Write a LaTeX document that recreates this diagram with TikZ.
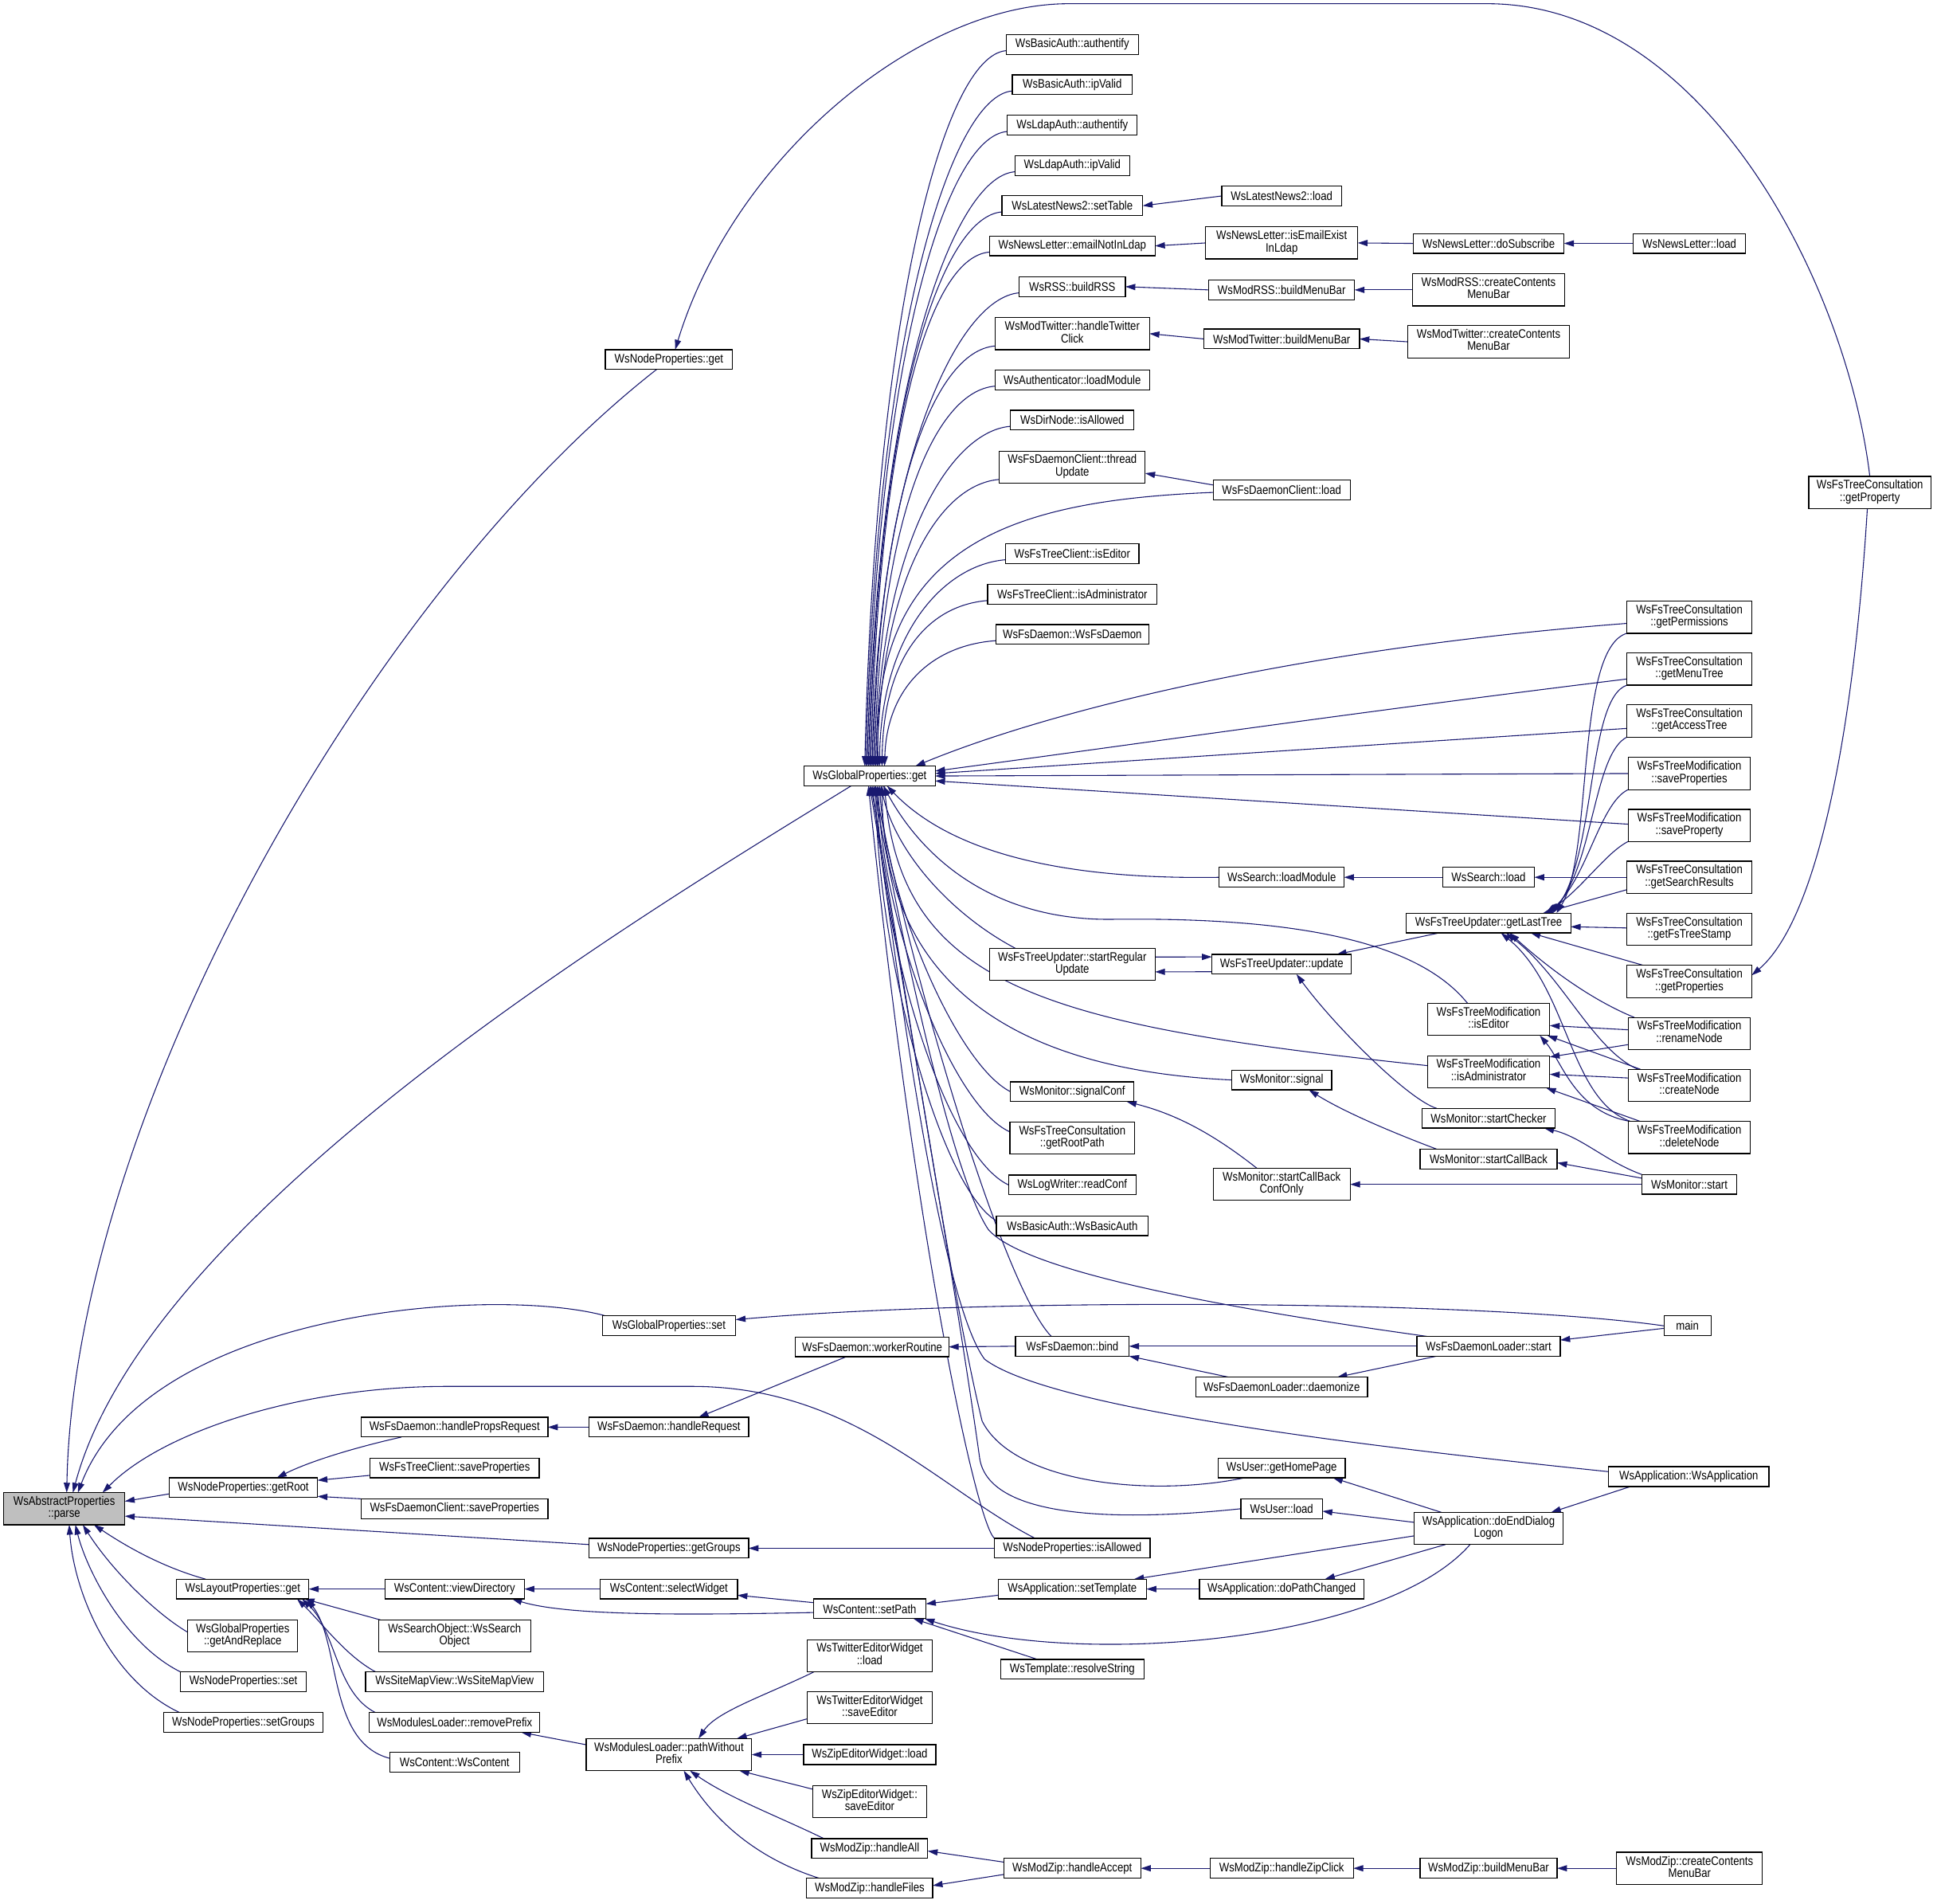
\documentclass[tikz,border=0pt]{standalone}
\usepackage{fontspec}
\setmainfont{Liberation Sans}
\usepackage{graphicx}
\usetikzlibrary{arrows.meta}
\definecolor{edgeblue}{HTML}{191970}
\definecolor{parsegray}{HTML}{BFBFBF}
\newcommand{\lblA}[1]{\scalebox{0.85}[1]{#1}}
\newcommand{\lblB}[2]{\scalebox{0.85}[1]{\begin{tabular}{@{}c@{}}#1\\#2\end{tabular}}}
\pgfdeclarelayer{bg}
\pgfsetlayers{bg,main}
\begin{document}
\begin{tikzpicture}[x=1pt,y=-1pt,
 nb/.style={draw=black, line width=0.8pt, fill=white, inner sep=0pt, outer sep=0pt, minimum height=16pt, minimum width=#1, font=\fontsize{10}{9.5}\selectfont},
 nbb/.style={nb=#1, minimum height=26pt},
 edg/.style={draw=edgeblue, line width=0.7pt, -{Triangle[length=8pt,width=5pt]}}]
\useasboundingbox (0,0) rectangle (1568,1540.3);
% ---------- nodes ----------
\node[nbb=98pt, fill=parsegray] (parse) at (52,1221) {\lblB{WsAbstractProperties}{::parse}};
% column A
\node[nb=120pt] (getRoot) at (197,1204) {\lblA{WsNodeProperties::getRoot}};
\node[nb=107pt] (laget) at (196.5,1286) {\lblA{WsLayoutProperties::get}};
\node[nbb=89pt] (gar) at (196.5,1324) {\lblB{WsGlobalProperties}{::getAndReplace}};
\node[nb=102pt] (npset) at (197,1361) {\lblA{WsNodeProperties::set}};
\node[nb=129pt] (setgr) at (197,1394) {\lblA{WsNodeProperties::setGroups}};
% column B
\node[nb=151pt] (hpr) at (368,1155) {\lblA{WsFsDaemon::handlePropsRequest}};
\node[nb=137pt] (ftcsp) at (368,1188) {\lblA{WsFsTreeClient::saveProperties}};
\node[nb=151pt] (fdcsp) at (368,1221) {\lblA{WsFsDaemonClient::saveProperties}};
\node[nb=113pt] (viewdir) at (368,1286) {\lblA{WsContent::viewDirectory}};
\node[nbb=123pt] (sobj) at (368,1324) {\lblB{WsSearchObject::WsSearch}{Object}};
\node[nb=144pt] (smv) at (368,1361) {\lblA{WsSiteMapView::WsSiteMapView}};
\node[nb=138pt] (rmpref) at (368,1394) {\lblA{WsModulesLoader::removePrefix}};
\node[nb=105pt] (wscont) at (368,1426) {\lblA{WsContent::WsContent}};
% column C
\node[nb=103pt] (npget) at (541.5,291) {\lblA{WsNodeProperties::get}};
\node[nb=108pt] (gset) at (541.5,1073) {\lblA{WsGlobalProperties::set}};
\node[nb=129pt] (hreq) at (541.5,1155) {\lblA{WsFsDaemon::handleRequest}};
\node[nb=129pt] (getgr) at (541.5,1253) {\lblA{WsNodeProperties::getGroups}};
\node[nb=111pt] (selw) at (541.5,1286) {\lblA{WsContent::selectWidget}};
\node[nbb=134pt] (pwp) at (541.5,1420) {\lblB{WsModulesLoader::pathWithout}{Prefix}};
% column D
\node[nb=106pt] (gget) at (704,628) {\lblA{WsGlobalProperties::get}};
\node[nb=124pt] (worker) at (706,1090) {\lblA{WsFsDaemon::workerRoutine}};
\node[nb=91pt] (setpath) at (704,1302) {\lblA{WsContent::setPath}};
\node[nbb=101pt] (twload) at (704,1340) {\lblB{WsTwitterEditorWidget}{::load}};
\node[nbb=101pt] (twsave) at (704,1382) {\lblB{WsTwitterEditorWidget}{::saveEditor}};
\node[nb=107pt] (zload) at (704,1420) {\lblA{WsZipEditorWidget::load}};
\node[nbb=92pt] (zsave) at (704,1458) {\lblB{WsZipEditorWidget::}{saveEditor}};
\node[nb=94pt] (hall) at (704,1496) {\lblA{WsModZip::handleAll}};
\node[nb=102pt] (hfiles) at (704,1528) {\lblA{WsModZip::handleFiles}};
% column E
\node[nb=107pt] (ba1) at (868,36) {\lblA{WsBasicAuth::authentify}};
\node[nb=97pt] (ba2) at (868,68.6) {\lblA{WsBasicAuth::ipValid}};
\node[nb=105pt] (la1) at (868,101.4) {\lblA{WsLdapAuth::authentify}};
\node[nb=93pt] (la2) at (868,134) {\lblA{WsLdapAuth::ipValid}};
\node[nb=114pt] (ln2set) at (868,166.5) {\lblA{WsLatestNews2::setTable}};
\node[nb=134pt] (nlemail) at (868,199) {\lblA{WsNewsLetter::emailNotInLdap}};
\node[nb=86pt] (rss) at (868,232) {\lblA{WsRSS::buildRSS}};
\node[nbb=125pt] (twclick) at (868,270) {\lblB{WsModTwitter::handleTwitter}{Click}};
\node[nb=125pt] (authload) at (868,307.5) {\lblA{WsAuthenticator::loadModule}};
\node[nb=100pt] (dirnode) at (868,340) {\lblA{WsDirNode::isAllowed}};
\node[nbb=118pt] (thupd) at (868,378) {\lblB{WsFsDaemonClient::thread}{Update}};
\node[nb=108pt] (ftced) at (868,448) {\lblA{WsFsTreeClient::isEditor}};
\node[nb=137pt] (ftcadm) at (868,481) {\lblA{WsFsTreeClient::isAdministrator}};
\node[nb=124pt] (fsdd) at (868,513.5) {\lblA{WsFsDaemon::WsFsDaemon}};
\node[nbb=134pt] (startreg) at (868,780.5) {\lblB{WsFsTreeUpdater::startRegular}{Update}};
\node[nb=100pt] (sigconf) at (868,883.5) {\lblA{WsMonitor::signalConf}};
\node[nbb=101pt] (rootpath) at (868,921) {\lblB{WsFsTreeConsultation}{::getRootPath}};
\node[nb=103pt] (readconf) at (868,959) {\lblA{WsLogWriter::readConf}};
\node[nb=123pt] (bactor) at (868,992) {\lblA{WsBasicAuth::WsBasicAuth}};
\node[nb=92pt] (bind) at (868,1089.5) {\lblA{WsFsDaemon::bind}};
\node[nb=126pt] (npallow) at (868,1253) {\lblA{WsNodeProperties::isAllowed}};
\node[nb=120pt] (settpl) at (868,1286) {\lblA{WsApplication::setTemplate}};
\node[nb=116pt] (resolve) at (868,1351) {\lblA{WsTemplate::resolveString}};
\node[nb=111pt] (haccept) at (868,1512) {\lblA{WsModZip::handleAccept}};
% column F
\node[nb=97pt] (ln2load) at (1037.5,158.6) {\lblA{WsLatestNews2::load}};
\node[nbb=123pt] (nlexist) at (1037.5,196.6) {\lblB{WsNewsLetter::isEmailExist}{InLdap}};
\node[nb=118pt] (rssbar) at (1037.5,234.6) {\lblA{WsModRSS::buildMenuBar}};
\node[nb=126pt] (twbar) at (1037.5,274.3) {\lblA{WsModTwitter::buildMenuBar}};
\node[nb=111pt] (fdcload) at (1037.5,396.5) {\lblA{WsFsDaemonClient::load}};
\node[nb=101pt] (sload) at (1037.5,710) {\lblA{WsSearch::loadModule}};
\node[nb=113pt] (update) at (1037.5,780.4) {\lblA{WsFsTreeUpdater::update}};
\node[nb=81pt] (signal) at (1037.5,874) {\lblA{WsMonitor::signal}};
\node[nbb=111pt] (scbco) at (1037.5,958.5) {\lblB{WsMonitor::startCallBack}{ConfOnly}};
\node[nb=139pt] (daemonize) at (1037.5,1122.5) {\lblA{WsFsDaemonLoader::daemonize}};
\node[nb=103pt] (homepage) at (1037.5,1188) {\lblA{WsUser::getHomePage}};
\node[nb=66pt] (uload) at (1037.5,1221) {\lblA{WsUser::load}};
\node[nb=133pt] (pathch) at (1037.5,1286) {\lblA{WsApplication::doPathChanged}};
\node[nb=116pt] (zipclick) at (1037.5,1512) {\lblA{WsModZip::handleZipClick}};
% column G
\node[nb=122pt] (dosub) at (1205,197) {\lblA{WsNewsLetter::doSubscribe}};
\node[nbb=123pt] (rsscc) at (1205,234.6) {\lblB{WsModRSS::createContents}{MenuBar}};
\node[nbb=131pt] (twcc) at (1205,276.6) {\lblB{WsModTwitter::createContents}{MenuBar}};
\node[nb=74pt] (sl) at (1205,710) {\lblA{WsSearch::load}};
\node[nb=133pt] (lasttree) at (1205,747) {\lblA{WsFsTreeUpdater::getLastTree}};
\node[nbb=99pt] (fmed) at (1205,825) {\lblB{WsFsTreeModification}{::isEditor}};
\node[nbb=99pt] (fmadm) at (1205,867.4) {\lblB{WsFsTreeModification}{::isAdministrator}};
\node[nb=108pt] (schk) at (1205,905) {\lblA{WsMonitor::startChecker}};
\node[nb=111pt] (scb) at (1205,938) {\lblA{WsMonitor::startCallBack}};
\node[nb=116pt] (ldstart) at (1205,1089.5) {\lblA{WsFsDaemonLoader::start}};
\node[nbb=121pt] (endlog) at (1205,1237) {\lblB{WsApplication::doEndDialog}{Logon}};
\node[nb=111pt] (zbar) at (1205,1512) {\lblA{WsModZip::buildMenuBar}};
% column H
\node[nb=91pt] (nlload) at (1367.5,197) {\lblA{WsNewsLetter::load}};
\node[nbb=101pt] (gperm) at (1367.5,499.5) {\lblB{WsFsTreeConsultation}{::getPermissions}};
\node[nbb=101pt] (gmenu) at (1367.5,541.5) {\lblB{WsFsTreeConsultation}{::getMenuTree}};
\node[nbb=101pt] (gacc) at (1367.5,583.5) {\lblB{WsFsTreeConsultation}{::getAccessTree}};
\node[nbb=99pt] (msprops) at (1367.5,626) {\lblB{WsFsTreeModification}{::saveProperties}};
\node[nbb=99pt] (msprop) at (1367.5,668) {\lblB{WsFsTreeModification}{::saveProperty}};
\node[nbb=101pt] (gsearch) at (1367.5,710) {\lblB{WsFsTreeConsultation}{::getSearchResults}};
\node[nbb=101pt] (gstamp) at (1367.5,752) {\lblB{WsFsTreeConsultation}{::getFsTreeStamp}};
\node[nbb=101pt] (gprops) at (1367.5,794.3) {\lblB{WsFsTreeConsultation}{::getProperties}};
\node[nbb=99pt] (rename) at (1367.5,836.4) {\lblB{WsFsTreeModification}{::renameNode}};
\node[nbb=99pt] (create) at (1367.5,878.4) {\lblB{WsFsTreeModification}{::createNode}};
\node[nbb=99pt] (delete) at (1367.5,920.6) {\lblB{WsFsTreeModification}{::deleteNode}};
\node[nb=77pt] (mstart) at (1367.5,958.5) {\lblA{WsMonitor::start}};
\node[nb=38pt] (main) at (1366,1073) {\lblA{main}};
\node[nb=130pt] (wsapp) at (1367,1195) {\lblA{WsApplication::WsApplication}};
\node[nbb=118pt] (zcc) at (1367.7,1512) {\lblB{WsModZip::createContents}{MenuBar}};
% column I
\node[nbb=99pt] (gprop) at (1513.6,398.5) {\lblB{WsFsTreeConsultation}{::getProperty}};

% ---------- edges ----------
\begin{pgfonlayer}{bg}
% into parse
\draw[edg] ([xshift=-10pt]npget.south) .. controls (300,480) and (60,900) .. ([xshift=2pt]parse.north);
\draw[edg] ([xshift=-15pt]gget.south) .. controls (520,740) and (120,980) .. ([xshift=7pt]parse.north);
\draw[edg] ([xshift=3pt]gset.north west) .. controls (400,1040) and (120,1060) .. ([xshift=11pt]parse.north);
\draw[edg] ([xshift=-30pt]npallow.north) .. controls (760,1205) and (690,1122) .. (560,1122) -- (362,1122) .. controls (240,1122) and (130,1160) .. ([xshift=31pt]parse.north);
\draw[edg] ([yshift=-5pt]getRoot.west) -- ([yshift=6pt]parse.east);
\draw[edg] ([yshift=3pt]getgr.west) -- ([yshift=-6pt]parse.east);
\draw[edg] ([xshift=-30pt]laget.north) .. controls (130,1268) and (100,1250) .. ([xshift=24pt]parse.south);
\draw[edg] ([yshift=3pt]gar.west) .. controls (125,1305) and (90,1270) .. ([xshift=15pt]parse.south);
\draw[edg] (npset.north west) .. controls (100,1330) and (70,1270) .. ([xshift=9pt]parse.south);
\draw[edg] ([xshift=13pt]setgr.north west) .. controls (90,1360) and (60,1290) .. ([xshift=4pt]parse.south);
% into npget
\draw[edg] (gprop.north) .. controls (1495,230) and (1380,3) .. (1204,3) -- (865,3) .. controls (745,3) and (595,125) .. ([xshift=5pt]npget.north);
% top fan into gget
\draw[edg] ([yshift=3pt]ba1.south west) .. controls (764.5,45) and (709,249) .. ([xshift=-4pt]gget.north);
\draw[edg] ([yshift=3pt]ba2.south west) .. controls (769.5,77.6) and (709,270) .. ([xshift=-3pt]gget.north);
\draw[edg] ([yshift=3pt]la1.south west) .. controls (765.5,110) and (710,291) .. ([xshift=-2pt]gget.north);
\draw[edg] ([yshift=3pt]la2.south west) .. controls (771.5,143) and (710,312) .. ([xshift=-1pt]gget.north);
\draw[edg] ([yshift=3pt]ln2set.south west) .. controls (761,175.5) and (710,333) .. (gget.north);
\draw[edg] ([yshift=3pt]nlemail.south west) .. controls (751,208) and (711,354) .. ([xshift=1pt]gget.north);
\draw[edg] ([yshift=3pt]rss.south west) .. controls (775,241) and (711,375) .. ([xshift=2pt]gget.north);
\draw[edg] ([yshift=3pt]twclick.south west) .. controls (755.5,284) and (711,402) .. ([xshift=3pt]gget.north);
\draw[edg] ([yshift=3pt]authload.south west) .. controls (755.5,316.5) and (712,423) .. ([xshift=4pt]gget.north);
\draw[edg] ([yshift=3pt]dirnode.south west) .. controls (768,349) and (712,444) .. ([xshift=5pt]gget.north);
\draw[edg] ([yshift=3pt]thupd.south west) .. controls (759,392) and (713,471.5) .. ([xshift=6pt]gget.north);
\draw[edg] ([yshift=-2pt]fdcload.west) .. controls (820,405) and (705,440) .. ([xshift=7pt]gget.north);
\draw[edg] ([yshift=3pt]ftced.south west) .. controls (764,457) and (713,513) .. ([xshift=8pt]gget.north);
\draw[edg] ([yshift=3pt]ftcadm.south west) .. controls (749.5,490) and (715,534) .. ([xshift=10pt]gget.north);
\draw[edg] ([yshift=3pt]fsdd.south west) .. controls (756,522) and (718,555) .. ([xshift=12pt]gget.north);
% right side into gget
\draw[edg] ([yshift=-5pt]gperm.west) .. controls (1050,525) and (850,575) .. ([xshift=37pt]gget.north);
\draw[edg] ([yshift=-8pt]gmenu.west) .. controls (1100,576) and (900,605) .. ([yshift=4pt]gget.east);
\draw[edg] ([yshift=-6pt]gacc.west) -- ([yshift=2pt]gget.east);
\draw[edg] (msprops.west) -- (gget.east);
\draw[edg] ([yshift=1pt]msprop.west) -- ([yshift=-4pt]gget.east);
% bottom fan into gget
\draw[edg] (sload.west) .. controls (860,712) and (770,690) .. ([xshift=14pt]gget.south);
\draw[edg] ([xshift=-17pt]fmed.north) .. controls (1150,765) and (1060,742) .. (900,744) .. controls (810,745) and (750,700) .. ([xshift=11pt]gget.south);
\draw[edg] ([xshift=-46pt]startreg.north) .. controls (770,740) and (725,690) .. ([xshift=9pt]gget.south);
\draw[edg] ([yshift=5pt]fmadm.west) .. controls (850,830) and (730,800) .. ([xshift=12pt]gget.south);
\draw[edg] (signal.west) .. controls (800,865) and (715,780) .. ([xshift=10pt]gget.south);
\draw[edg] (sigconf.west) .. controls (775,862) and (718,730) .. ([xshift=8pt]gget.south);
\draw[edg] ([yshift=5pt]rootpath.west) .. controls (770,895) and (714,745) .. ([xshift=7pt]gget.south);
\draw[edg] (readconf.west) .. controls (765,935) and (712,760) .. ([xshift=6pt]gget.south);
\draw[edg] ([yshift=4pt]bactor.west) .. controls (760,960) and (710,770) .. ([xshift=5pt]gget.south);
\draw[edg] ([xshift=-17pt]bind.north) .. controls (815,1045) and (745,820) .. ([xshift=4pt]gget.south);
\draw[edg] ([xshift=-50pt]ldstart.north) .. controls (1000,1060) and (830,1030) .. (800,995) .. controls (770,950) and (730,760) .. ([xshift=3pt]gget.south);
\draw[edg] ([yshift=4pt]wsapp.west) .. controls (1100,1170) and (850,1140) .. (797,1100) .. controls (760,1050) and (725,780) .. ([xshift=2pt]gget.south);
\draw[edg] ([xshift=-30pt]homepage.south) .. controls (930,1212) and (820,1200) .. (795,1150) .. controls (770,1050) and (730,780) .. ([xshift=1pt]gget.south);
\draw[edg] (uload.west) .. controls (900,1232) and (800,1228) .. (793,1180) .. controls (775,1050) and (728,780) .. (gget.south);
\draw[edg] ([xshift=-63pt]npallow.north) .. controls (790,1232) and (740,1000) .. ([xshift=-1pt]gget.south);
% top chains
\draw[edg] (ln2load.west) -- (ln2set.east);
\draw[edg] (nlexist.west) -- (nlemail.east);
\draw[edg] (dosub.west) -- (nlexist.east);
\draw[edg] (nlload.west) -- (dosub.east);
\draw[edg] (rssbar.west) -- (rss.east);
\draw[edg] (rsscc.west) -- (rssbar.east);
\draw[edg] (twbar.west) -- (twclick.east);
\draw[edg] (twcc.west) -- (twbar.east);
\draw[edg] ([yshift=4pt]fdcload.west) -- ([yshift=-5pt]thupd.east);
% search / tree updater
\draw[edg] (sl.west) -- (sload.east);
\draw[edg] (gsearch.west) -- (sl.east);
\draw[edg] ([yshift=6pt]startreg.east) -- ([yshift=6pt]update.west);
\draw[edg] ([yshift=-6pt]update.west) -- ([yshift=-6pt]startreg.east);
\draw[edg] ([xshift=-40pt]lasttree.south) -- ([xshift=-12pt]update.north east);
\draw[edg] ([xshift=12pt]schk.north west) .. controls (1140,890) and (1080,830) .. ([xshift=12pt]update.south);
% into lasttree
\draw[edg] (gperm.south west) .. controls (1275,525) and (1290,690) .. ([xshift=55pt]lasttree.north);
\draw[edg] (gmenu.south west) .. controls (1285,565) and (1292,690) .. ([xshift=52pt]lasttree.north);
\draw[edg] (gacc.south west) .. controls (1290,610) and (1290,700) .. ([xshift=50pt]lasttree.north);
\draw[edg] (msprops.south west) .. controls (1295,650) and (1285,710) .. ([xshift=48pt]lasttree.north);
\draw[edg] (msprop.south west) .. controls (1300,690) and (1280,720) .. ([xshift=46pt]lasttree.north);
\draw[edg] ([yshift=3pt]gsearch.south west) -- ([xshift=44pt]lasttree.north);
\draw[edg] ([yshift=1pt]gstamp.west) -- ([yshift=-3pt]lasttree.east);
\draw[edg] ([xshift=-37pt]gprops.north) -- ([xshift=34pt]lasttree.south);
\draw[edg] ([xshift=5pt]rename.north west) .. controls (1290,810) and (1255,785) .. ([xshift=17pt]lasttree.south);
\draw[edg] ([xshift=8pt]create.north west) .. controls (1290,850) and (1265,790) .. ([xshift=14pt]lasttree.south);
\draw[edg] ([xshift=2pt]delete.north west) .. controls (1270,890) and (1270,800) .. ([xshift=10pt]lasttree.south);
% into getProperties
\draw[edg] ([xshift=-2pt]gprop.south) .. controls (1500,600) and (1470,745) .. ([yshift=5pt]gprops.east);
% into FsTreeModification::isEditor / isAdministrator
\draw[edg] ([yshift=3pt]rename.west) -- ([yshift=-5pt]fmed.east);
\draw[edg] ([xshift=10pt]create.north west) -- ([xshift=-2pt]fmed.south east);
\draw[edg] ([xshift=2pt]delete.north west) .. controls (1275,900) and (1265,860) .. ([xshift=-8pt]fmed.south east);
\draw[edg] ([yshift=-9pt]rename.west) -- ([yshift=12pt]fmadm.east);
\draw[edg] ([yshift=6pt]create.west) -- ([yshift=-2pt]fmadm.east);
\draw[edg] ([xshift=10pt]delete.north west) -- ([xshift=-3pt]fmadm.south east);
% monitor
\draw[edg] (mstart.north west) .. controls (1300,940) and (1280,920) .. ([xshift=-9pt]schk.south east);
\draw[edg] ([yshift=5pt]mstart.west) -- ([yshift=-3pt]scb.east);
\draw[edg] (mstart.west) -- (scbco.east);
\draw[edg] ([xshift=-20pt]scbco.north) .. controls (975,912) and (945,900) .. ([xshift=-6pt]sigconf.south east);
\draw[edg] ([xshift=-42pt]scb.north) .. controls (1110,910) and (1080,895) .. ([xshift=22pt]signal.south);
% daemon
\draw[edg] (main.west) .. controls (1200,1052) and (800,1050) .. ([yshift=5pt]gset.east);
\draw[edg] ([yshift=-2pt]main.west) -- ([yshift=5pt]ldstart.east);
\draw[edg] (ldstart.west) -- (bind.east);
\draw[edg] ([xshift=-42pt]ldstart.south) -- ([xshift=45pt]daemonize.north);
\draw[edg] ([xshift=-43pt]daemonize.north) -- (bind.south east);
\draw[edg] (bind.west) -- (worker.east);
\draw[edg] ([xshift=-21pt]worker.south) -- ([xshift=24pt]hreq.north);
\draw[edg] (hreq.west) -- (hpr.east);
\draw[edg] ([xshift=-43pt]hpr.south) .. controls (285,1172) and (250,1183) .. ([xshift=27pt]getRoot.north);
\draw[edg] ([yshift=-6pt]ftcsp.west) -- ([yshift=6pt]getRoot.east);
\draw[edg] ([yshift=8pt]fdcsp.west) -- ([yshift=-7pt]getRoot.east);
\draw[edg] (npallow.west) -- (getgr.east);
% application / content
\draw[edg] (viewdir.west) -- (laget.east);
\draw[edg] ([xshift=-60pt]sobj.north) -- ([xshift=50pt]laget.south);
\draw[edg] ([xshift=8pt]smv.north west) .. controls (280,1340) and (262,1315) .. ([xshift=44pt]laget.south);
\draw[edg] ([xshift=5pt]rmpref.north west) .. controls (272,1370) and (272,1320) .. ([xshift=48pt]laget.south);
\draw[edg] ([yshift=3pt]wscont.west) .. controls (265,1410) and (276,1330) .. ([xshift=52pt]laget.south);
\draw[edg] (selw.west) -- (viewdir.east);
\draw[edg] ([yshift=-3pt]setpath.west) .. controls (560,1307) and (460,1308) .. ([xshift=-10pt]viewdir.south east);
\draw[edg] ([yshift=5pt]setpath.west) -- ([yshift=-5pt]selw.east);
\draw[edg] ([yshift=-5pt]settpl.west) -- ([yshift=4pt]setpath.east);
\draw[edg] ([xshift=-28pt]resolve.north) -- ([xshift=-10pt]setpath.south east);
\draw[edg] ([xshift=-15pt]endlog.south) .. controls (1120,1330) and (870,1350) .. ([xshift=-1pt]setpath.east |- setpath.south east);
\draw[edg] (pathch.west) -- (settpl.east);
\draw[edg] ([yshift=-6pt]endlog.west) -- ([xshift=-10pt]settpl.north east);
\draw[edg] ([xshift=-35pt]endlog.south) -- ([xshift=35pt]pathch.north);
\draw[edg] ([xshift=-38pt]endlog.north) -- ([xshift=-10pt]homepage.south east);
\draw[edg] ([yshift=5pt]endlog.west) -- ([yshift=-2pt]uload.east);
\draw[edg] ([xshift=-47pt]wsapp.south) -- ([xshift=-10pt]endlog.north east);
% modules loader
\draw[edg] ([yshift=8pt]pwp.west) -- ([xshift=-15pt]rmpref.south east);
\draw[edg] ([xshift=-45pt]twload.south) .. controls (620,1372) and (580,1385) .. ([xshift=24pt]pwp.north);
\draw[edg] ([yshift=4pt]twsave.south west) -- ([xshift=-12pt]pwp.north east);
\draw[edg] (zload.west) -- (pwp.east);
\draw[edg] ([yshift=-3pt]zsave.north west) -- ([xshift=-10pt]pwp.south east);
\draw[edg] ([xshift=10pt]hall.north west) .. controls (630,1470) and (590,1455) .. ([xshift=17pt]pwp.south);
\draw[edg] ([xshift=10pt]hfiles.north west) .. controls (600,1500) and (570,1460) .. ([xshift=12pt]pwp.south);
\draw[edg] ([yshift=5pt]haccept.west) -- ([yshift=-2pt]hall.east);
\draw[edg] ([yshift=-5pt]haccept.west) -- ([yshift=2pt]hfiles.east);
\draw[edg] (zipclick.west) -- (haccept.east);
\draw[edg] (zbar.west) -- (zipclick.east);
\draw[edg] (zcc.west) -- (zbar.east);
\end{pgfonlayer}
\end{tikzpicture}
\end{document}
